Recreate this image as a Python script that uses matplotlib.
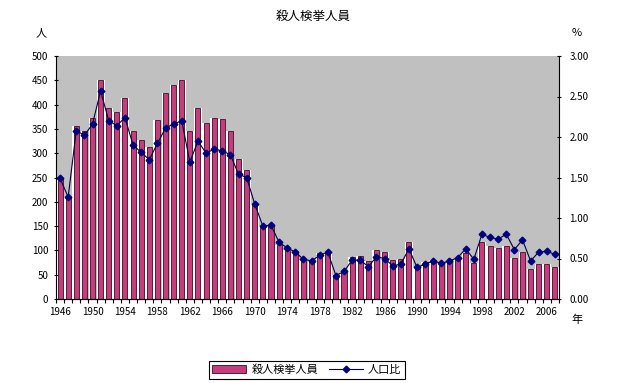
import matplotlib
matplotlib.use("Agg")
import matplotlib.pyplot as plt
import numpy as np

plt.rcParams['font.family'] = ['Noto Sans CJK JP', 'DejaVu Sans']

years = list(range(1946, 2008))
arrests = [248, 210, 355, 346, 372, 450, 394, 384, 413, 346,
           327, 312, 368, 423, 440, 450, 346, 394, 362, 372,
           370, 346, 288, 265, 195, 151, 152, 111, 101, 94,
           80, 80, 94, 97, 49, 56, 86, 88, 78, 101,
           97, 80, 82, 117, 65, 76, 80, 75, 80, 82,
           95, 75, 117, 110, 105, 109, 84, 97, 61, 72,
           72, 65]
ratio = [1.49, 1.26, 2.08, 2.02, 2.16, 2.57, 2.20, 2.14, 2.24, 1.90,
         1.81, 1.72, 1.92, 2.11, 2.16, 2.20, 1.69, 1.95, 1.80, 1.85,
         1.83, 1.78, 1.54, 1.50, 1.17, 0.90, 0.91, 0.70, 0.63, 0.58,
         0.49, 0.47, 0.54, 0.58, 0.29, 0.34, 0.48, 0.48, 0.40, 0.52,
         0.50, 0.41, 0.43, 0.62, 0.39, 0.43, 0.47, 0.44, 0.47, 0.51,
         0.62, 0.49, 0.80, 0.76, 0.74, 0.80, 0.61, 0.73, 0.47, 0.58,
         0.59, 0.55]
tick_years = list(range(1946, 2008, 4))
title = "殺人検挙人員"
bar_label = "殺人検挙人員"
line_label = "人口比"

fig = plt.figure(figsize=(6.26, 3.83), dpi=100)
ax = fig.add_axes([56/626, 1-299/383, 503/626, 243/383])
ax.set_facecolor('#C0C0C0')
x = np.arange(len(years))

ax.bar(x, arrests, width=0.98, color='white', edgecolor='none', zorder=1)
bars = ax.bar(x, arrests, width=0.62, color='#C63C7C', edgecolor='#3a0a20',
              linewidth=0.6, zorder=2, label=bar_label)
ax.set_xlim(-0.5, len(years)-0.5)
ax.set_ylim(0, 500)
ax.set_yticks(np.arange(0, 501, 50))
ax.set_yticklabels([str(v) for v in range(0, 501, 50)], fontsize=7)
ax.set_xticks([years.index(y) for y in tick_years])
ax.set_xticklabels([str(y) for y in tick_years], fontsize=7)
ax.set_xticks(np.arange(-0.5, len(years), 1), minor=True)
ax.tick_params(axis='x', which='major', length=0, pad=6)
ax.tick_params(axis='x', which='minor', length=3, direction='out', width=0.8)
ax.tick_params(axis='y', length=3, direction='inout', width=0.8, pad=4)
ax.spines['top'].set_visible(False)
ax.spines['right'].set_visible(False)

ax2 = ax.twinx()
line, = ax2.plot(x, ratio, color='#000040', linewidth=0.8, marker='D',
                 markersize=3.4, markerfacecolor='#000080', markeredgecolor='#000080',
                 zorder=3, label=line_label)
ax2.set_ylim(0, 3.0)
ax2.set_yticks(np.arange(0, 3.01, 0.5))
ax2.set_yticklabels(['%.2f' % v for v in np.arange(0, 3.01, 0.5)], fontsize=7)
ax2.tick_params(axis='y', length=3, direction='inout', width=0.8, pad=6)
ax2.spines['top'].set_visible(False)
ax2.spines['left'].set_visible(False)

fig.text(313/626, 1-16/383, title, ha='center', va='center', fontsize=9)
fig.text(41/626, 1-33/383, "人", ha='center', va='center', fontsize=8)
fig.text(577/626, 1-33/383, "%", ha='center', va='center', fontsize=8)
fig.text(577/626, 1-320/383, "年", ha='center', va='center', fontsize=8)

leg = fig.legend(handles=[bars, line], labels=[bar_label, line_label], loc='center',
                 bbox_to_anchor=(307/626, 1-370/383), ncol=2, fontsize=8,
                 frameon=True, fancybox=False, edgecolor='black', framealpha=1,
                 handlelength=3, columnspacing=1.0, borderpad=0.3, handletextpad=0.5)
leg.get_frame().set_linewidth(0.8)

fig.savefig('out.png', dpi=100)
